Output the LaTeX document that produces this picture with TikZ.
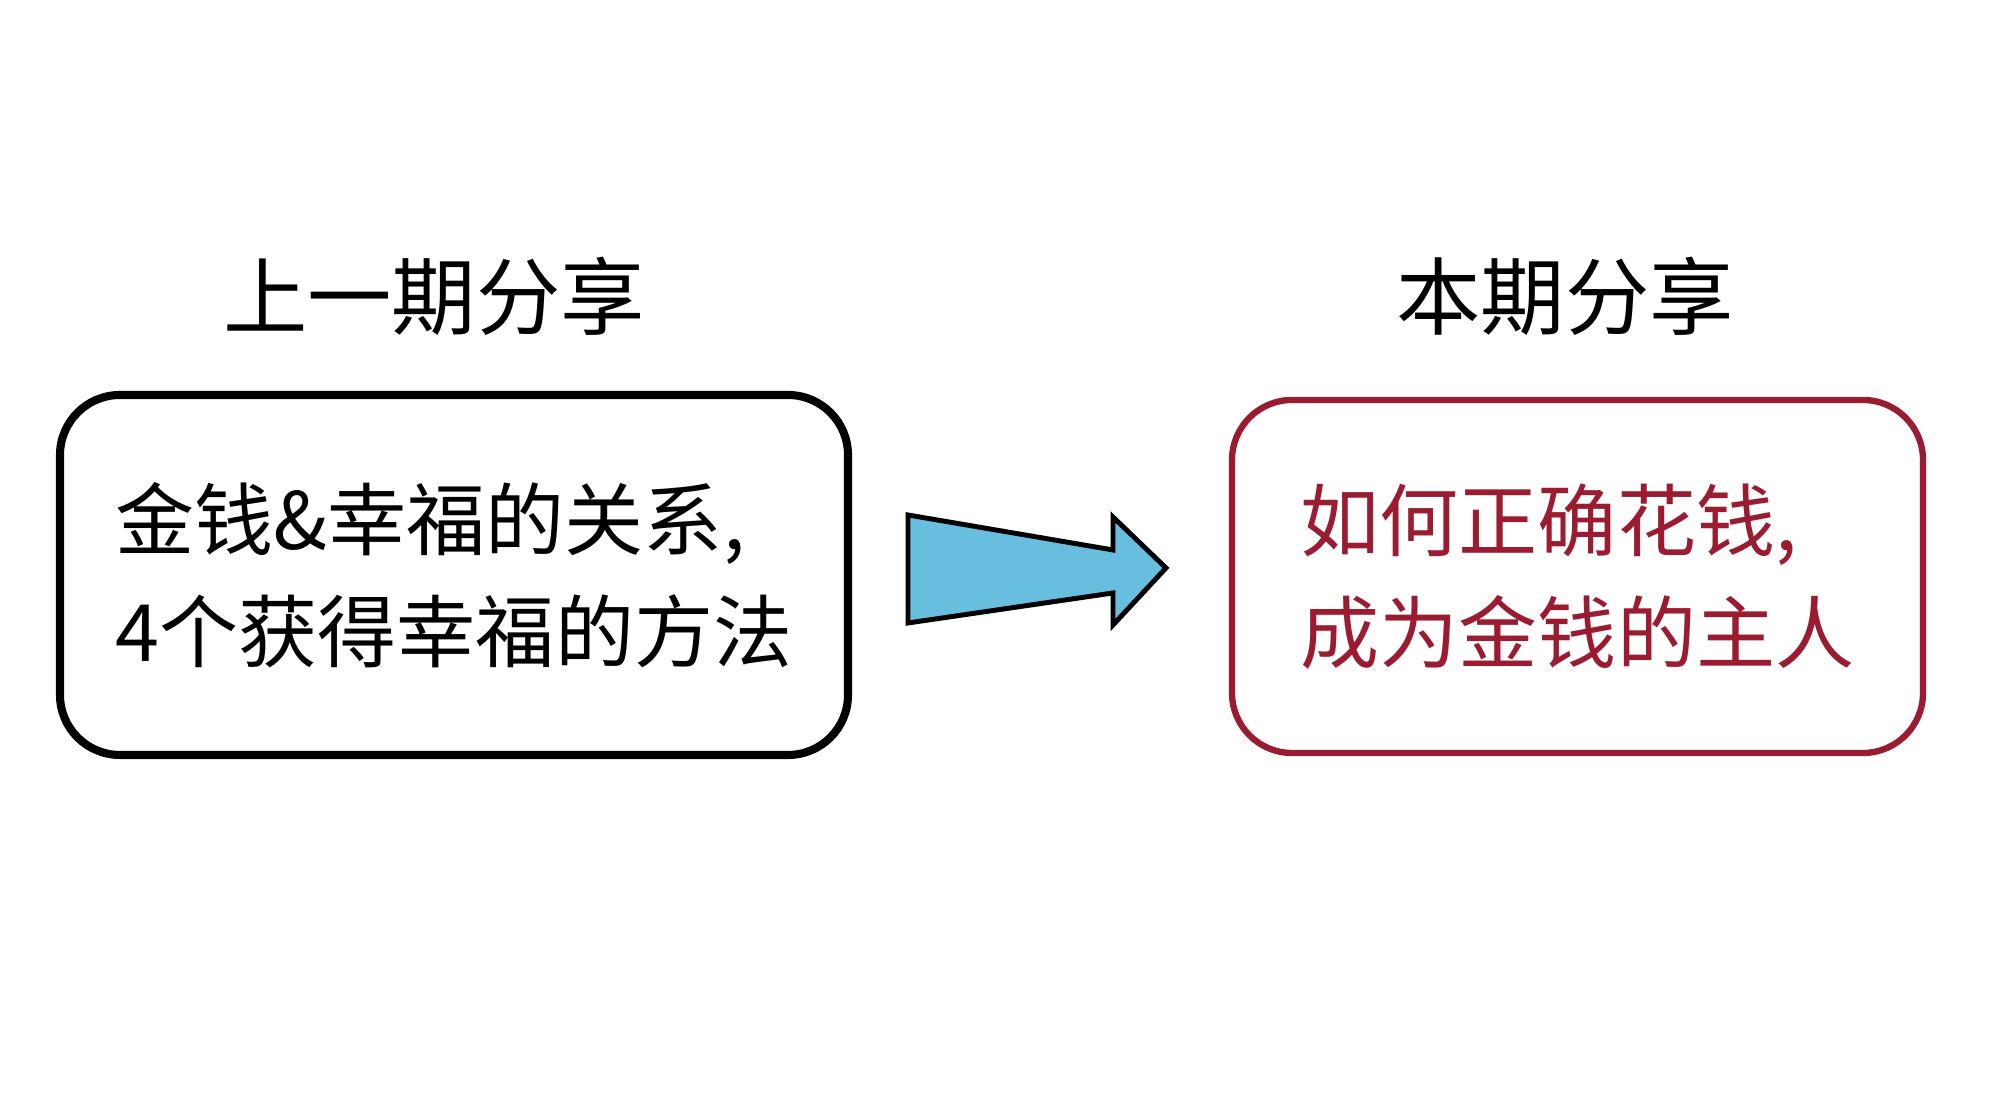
\documentclass[tikz,border=0pt]{standalone}
\usepackage{fontspec}
\setmainfont{Noto Sans CJK SC}
\usetikzlibrary{positioning}
\definecolor{sharered}{HTML}{9B1B30}
\definecolor{arrowblue}{HTML}{67BEDF}

\begin{document}
\begin{tikzpicture}[
  sharebox/.style={draw, rounded corners=0.6cm, align=left, inner sep=0pt,
    font=\fontsize{22.5}{32}\selectfont},
  sharetitle/.style={font=\fontsize{24}{28}\selectfont}]
  \useasboundingbox (0,0) rectangle (20,11.04);
  % boxes
  \node[sharebox, line width=2.3pt, minimum width=7.88cm, minimum height=3.6cm] (last) at (4.54,5.29) {金钱\&幸福的关系,\\4个获得幸福的方法};
  \node[sharebox, draw=sharered, text=sharered, line width=1.8pt, minimum width=6.91cm, minimum height=3.53cm] (this) at (15.775,5.275) {如何正确花钱,\\成为金钱的主人};
  % titles
  \node[sharetitle] (lasttitle) at (4.34,8.08) {上一期分享};
  \node[sharetitle] (thistitle) at (15.65,8.08) {本期分享};
  % block arrow
  \draw[fill=arrowblue, line width=1.4pt, line join=miter]
    (9.08,5.89) -- (11.13,5.54) -- (11.13,5.87) -- (11.66,5.36)
    -- (11.13,4.79) -- (11.13,5.11) -- (9.08,4.81) -- cycle;
\end{tikzpicture}
\end{document}
